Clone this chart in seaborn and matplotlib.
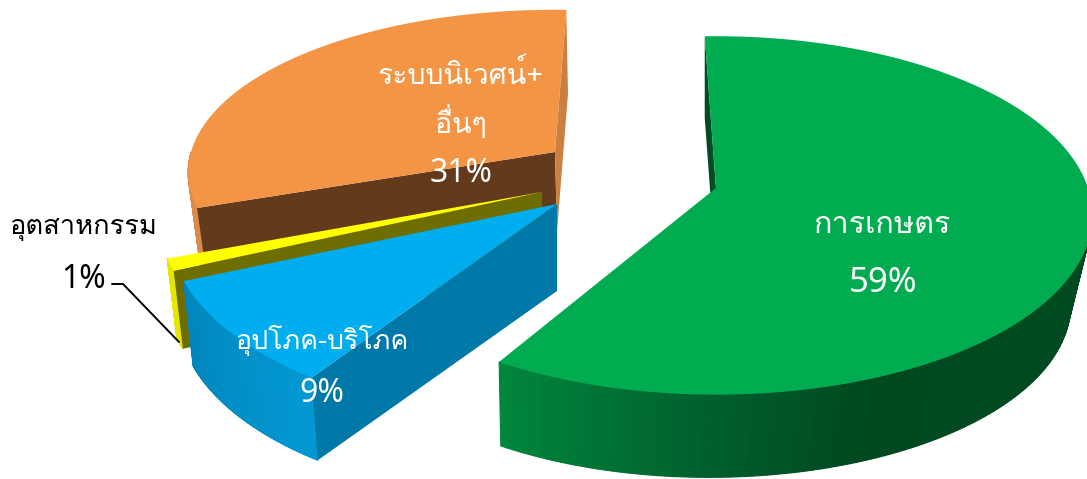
import numpy as np
import matplotlib
matplotlib.use("Agg")
import matplotlib.pyplot as plt
import seaborn as sns

categories = ["การเกษตร", "อุปโภค-บริโภค", "อุตสาหกรรม", "ระบบนิเวศน์+\nอื่นๆ"]
shares = [59, 9, 1, 31]
slice_names = ["green", "blue", "yellow", "orange"]

sns.set_theme(style="white")
plt.rcParams["font.family"] = ["Loma", "Noto Sans Thai Looped", "Noto Sans", "DejaVu Sans"]

# layout of each slice, the pie is exploded so each has its own apex
geom = {
    "green": dict(apex=(716, 188), low=(709, 279), rx=372, ry=175, shift=-2, p=0.153, s=0.96,
                  cut_low=(716, 270), cut_s=1.0),
    "blue": dict(apex=(557, 204), low=(557, 291), rx=385, ry=190, shift=2.5, p=0.125, s=0.975),
    "yellow": dict(apex=(542, 192), low=(542, 272), rx=381, ry=190, shift=2, p=0.125, s=0.975),
    "orange": dict(apex=(555, 152), low=(557, 232), rx=364, ry=160, shift=2, p=0.125, s=0.975),
}

top_colors = {"green": "#00AC4F", "blue": "#00AEEF", "yellow": "#FFFF00", "orange": "#F39545"}
wall_colors = {
    "green": ["#00873D", "#006E32", "#005A2A", "#004820", "#004921"],
    "blue": ["#0498D2", "#0086BC"],
    "yellow": ["#E6E600", "#E6E600"],
    "orange": ["#DC8A48", "#DC8A48"],
}
cut_colors = {"green": "#004D25", "blue": "#0078A8", "yellow": "#6E6E00", "orange": "#643A1C"}


def project(theta, g):
    t = np.radians(theta)
    w = 1 + g["p"] * np.cos(t)
    x = g["rx"] * np.sin(t) / w
    y = -g["ry"] * np.cos(t) / w
    return np.column_stack([g["apex"][0] + x, g["apex"][1] + y])


def lower(pts, g, low, s):
    return np.array(low) + (pts - np.array(g["apex"])) * s


fig, ax = plt.subplots(figsize=(10.87, 4.79), dpi=100)
fig.subplots_adjust(0, 0, 1, 1)
ax.set_xlim(0, 1087)
ax.set_ylim(479, 0)
ax.axis("off")

edges = np.cumsum([0] + shares) / 100 * 360

# back slices first so the nearer ones cover them
for i in [3, 2, 1, 0]:
    name = slice_names[i]
    g = geom[name]
    arc = project(np.linspace(edges[i] + g["shift"], edges[i + 1] + g["shift"], 200), g)
    arc_low = lower(arc, g, g["low"], g["s"])
    apex = np.array(g["apex"], dtype=float)

    # outer wall in narrow strips for the shading, the far side stays hidden
    pal = sns.blend_palette(wall_colors[name], n_colors=len(arc) - 1)
    for k in range(len(arc) - 1):
        if arc[k, 1] < apex[1]:
            continue
        c = pal[k]
        if name == "green":
            frac = np.clip((arc[k, 0] - 500) / 500, 0, 1)
            c = pal[int(frac * (len(pal) - 1))]
        quad = np.vstack([arc[k], arc[k + 1], arc_low[k + 1], arc_low[k]])
        ax.fill(quad[:, 0], quad[:, 1], color=c, lw=0.8, zorder=i * -10)

    # cut faces
    cut_low = g.get("cut_low", g["low"])
    cut_s = g.get("cut_s", g["s"])
    cut_bottom = lower(arc, g, cut_low, cut_s)
    poly = np.vstack([apex, arc[0], cut_bottom[0], cut_low])
    ax.fill(poly[:, 0], poly[:, 1], color=cut_colors[name], lw=0, zorder=i * -10 + 1)
    if name == "orange":
        poly = np.vstack([apex, arc[-1], cut_bottom[-1], cut_low])
        ax.fill(poly[:, 0], poly[:, 1], color="#CB8041", lw=0, zorder=i * -10 + 1)

    face = np.vstack([apex, arc])
    ax.fill(face[:, 0], face[:, 1], color=top_colors[name], lw=0, zorder=i * -10 + 2)

# labels, the percent signs read better in Noto Sans
thai_kw = dict(ha="center", va="center", zorder=5)
pct_kw = dict(ha="center", va="center", zorder=5, family="Noto Sans")
ax.text(461, 75, "ระบบนิเวศน์+", color="white", fontsize=20.5, **thai_kw)
ax.text(461, 122, "อื่นๆ", color="white", fontsize=20.5, **thai_kw)
ax.text(461, 174, f"{shares[3]}%", color="white", fontsize=23, **pct_kw)
ax.text(882, 225, "การเกษตร", color="white", fontsize=22, **thai_kw)
ax.text(883, 283, f"{shares[0]}%", color="white", fontsize=25, **pct_kw)
ax.text(322, 341, "อุปโภค-บริโภค", color="white", fontsize=19.3, **thai_kw)
ax.text(322, 394, f"{shares[1]}%", color="white", fontsize=23, **pct_kw)
ax.text(84, 228, "อุตสาหกรรม", color="black", fontsize=19.6, **thai_kw)
ax.text(84, 280, f"{shares[2]}%", color="black", fontsize=23, **pct_kw)
ax.plot([112, 123, 179], [284, 284, 342], color="black", lw=1.4, zorder=6)

fig.savefig("out.png", dpi=100)
